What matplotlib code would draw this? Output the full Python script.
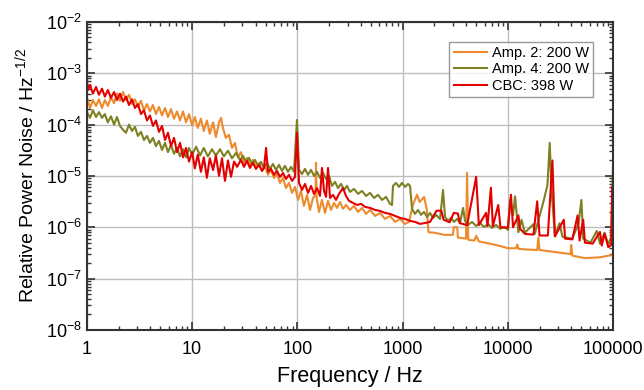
import matplotlib
matplotlib.use("Agg")
import matplotlib.pyplot as plt
from matplotlib import ticker

plt.rcParams["font.family"] = ["Liberation Sans", "DejaVu Sans"]
plt.rcParams["mathtext.default"] = "regular"

# (frequency in Hz, relative power noise in 1/sqrt(Hz))

# Amp. 2: 200 W (orange)
amp2 = [(1.0, 3.4e-4), (1.07, 2.1e-4), (1.14, 3.0e-4), (1.22, 2.3e-4), (1.30, 3.1e-4),
        (1.39, 2.1e-4), (1.48, 3.0e-4), (1.58, 2.3e-4), (1.69, 3.4e-4), (1.81, 2.6e-4),
        (1.93, 4.0e-4), (2.06, 2.9e-4), (2.20, 4.3e-4), (2.35, 3.0e-4), (2.51, 3.8e-4),
        (2.68, 2.5e-4), (2.86, 3.1e-4), (3.05, 2.2e-4), (3.26, 2.9e-4), (3.48, 1.9e-4),
        (3.72, 2.5e-4), (3.97, 1.8e-4), (4.24, 2.4e-4), (4.53, 1.6e-4), (4.84, 2.2e-4),
        (5.17, 1.5e-4), (5.52, 2.1e-4), (5.89, 1.4e-4), (6.29, 2.0e-4), (6.72, 1.3e-4),
        (7.18, 1.8e-4), (7.67, 1.2e-4), (8.19, 1.8e-4), (8.74, 1.1e-4), (9.33, 1.6e-4),
        (10.0, 9.5e-5), (10.6, 1.4e-4), (11.3, 8.6e-5), (12.1, 1.3e-4), (12.9, 7.5e-5),
        (13.8, 1.2e-4), (14.7, 6.6e-5), (15.8, 1.1e-4), (16.8, 5.7e-5), (18.0, 1.1e-4),
        (18.8, 1.35e-4), (19.6, 8.6e-5), (20.9, 5.5e-5), (22.4, 6.3e-5), (23.9, 3.5e-5),
        (25.5, 4.4e-5), (27.2, 2.3e-5), (29.1, 2.9e-5), (31.1, 1.79e-5), (33.2, 2.24e-5),
        (35.4, 1.57e-5), (37.8, 2.05e-5), (40.4, 1.43e-5), (43.2, 1.79e-5), (46.1, 1.25e-5),
        (49.2, 1.57e-5), (52.5, 1.05e-5), (56.1, 1.31e-5), (59.9, 9.1e-6), (64.0, 1.09e-5),
        (68.3, 7.3e-6), (73.0, 9.1e-6), (77.9, 5.8e-6), (83.2, 7.3e-6), (88.9, 4.67e-6),
        (94.9, 6.1e-6), (101.3, 3.4e-6), (108.2, 5.1e-6), (115.5, 2.6e-6), (123.4, 4.27e-6),
        (131.8, 2.17e-6), (140.7, 3.72e-6), (148.6, 4.27e-6), (150.2, 1.8e-5), (151.9, 3.9e-6),
        (160.5, 1.99e-6), (171.3, 3.4e-6), (183.0, 1.9e-6), (195.4, 3.26e-6), (208.7, 2.17e-6),
        (222.8, 2.98e-6), (237.9, 2.38e-6), (254.1, 3.11e-6), (271.4, 2.28e-6), (289.7, 2.72e-6),
        (316, 2.17e-6), (345, 2.6e-6), (377, 1.99e-6), (411, 2.38e-6), (449, 1.82e-6),
        (490, 2.17e-6), (547, 1.66e-6), (610, 1.9e-6), (681, 1.45e-6), (759, 1.66e-6),
        (847, 1.27e-6), (945, 1.45e-6), (1054, 1.16e-6), (1151, 1.27e-6), (1250, 2.7e-6),
        (1370, 4.3e-6), (1450, 3.1e-6), (1600, 3.9e-6), (1700, 2.2e-6), (1760, 8.0e-7),
        (2020, 7.8e-7), (2500, 7.1e-7), (3000, 7.1e-7), (3060, 1.0e-6), (3300, 1.0e-6),
        (3350, 6.3e-7), (4000, 6.0e-7), (4100, 1.15e-5), (4200, 5.7e-7), (4800, 5.5e-7),
        (5000, 6.8e-7), (5300, 5.3e-7), (6700, 4.8e-7), (8500, 4.3e-7), (10000, 3.9e-7),
        (12000, 3.9e-7), (12300, 4.6e-7), (12600, 3.8e-7), (14500, 3.7e-7), (19000, 3.6e-7),
        (19500, 6.3e-7), (20000, 3.6e-7), (31000, 3.2e-7), (39500, 3.0e-7), (40000, 4.5e-7),
        (41000, 2.8e-7), (54000, 2.5e-7), (75000, 2.6e-7), (100000, 2.9e-7)]

# Amp. 4: 200 W (olive)
amp4 = [(1.0, 1.75e-4), (1.07, 1.35e-4), (1.14, 1.9e-4), (1.22, 1.4e-4), (1.30, 1.75e-4),
        (1.39, 1.35e-4), (1.48, 1.6e-4), (1.58, 1.1e-4), (1.69, 1.45e-4), (1.81, 1.0e-4),
        (1.93, 1.4e-4), (2.06, 9.4e-5), (2.20, 7.9e-5), (2.35, 6.9e-5), (2.51, 1.0e-4),
        (2.68, 7.5e-5), (2.86, 9.0e-5), (3.05, 6.0e-5), (3.26, 7.2e-5), (3.48, 5.0e-5),
        (3.72, 6.0e-5), (3.97, 4.4e-5), (4.24, 5.5e-5), (4.53, 3.8e-5), (4.84, 4.8e-5),
        (5.17, 3.2e-5), (5.52, 4.4e-5), (5.89, 2.9e-5), (6.29, 4.0e-5), (6.72, 2.7e-5),
        (7.18, 3.5e-5), (7.67, 2.4e-5), (8.19, 3.3e-5), (8.74, 2.3e-5), (9.33, 3.5e-5),
        (10.0, 2.6e-5), (10.9, 3.7e-5), (11.9, 2.5e-5), (12.9, 3.5e-5), (14.1, 2.4e-5),
        (15.4, 3.3e-5), (16.8, 2.5e-5), (18.4, 3.3e-5), (20.0, 2.4e-5), (21.9, 3.1e-5),
        (23.9, 2.2e-5), (26.1, 2.8e-5), (28.5, 2.05e-5), (30.4, 2.45e-5), (32.5, 1.87e-5),
        (34.7, 2.24e-5), (37.0, 1.71e-5), (39.5, 2.05e-5), (42.2, 1.57e-5), (45.1, 1.87e-5),
        (48.1, 1.43e-5), (51.4, 1.79e-5), (54.9, 1.37e-5), (58.6, 1.71e-5), (62.6, 1.31e-5),
        (66.9, 1.64e-5), (71.4, 1.25e-5), (76.2, 1.57e-5), (81.4, 1.2e-5), (86.9, 1.5e-5),
        (92.8, 1.2e-5), (99.1, 1.23e-4), (103.6, 1.31e-5), (110.6, 1.09e-5), (118.1, 1.37e-5),
        (126.2, 1.05e-5), (134.7, 1.31e-5), (143.8, 1.0e-5), (153.6, 1.2e-5), (164.0, 9.1e-6),
        (175.1, 1.14e-5), (187.1, 8.7e-6), (199.7, 1.0e-5), (213.3, 6.38e-6), (227.8, 7.64e-6),
        (243.2, 5.8e-6), (259.7, 6.98e-6), (277.3, 5.33e-6), (296.1, 6.38e-6), (316, 4.88e-6),
        (345, 5.58e-6), (377, 4.46e-6), (411, 5.1e-6), (449, 4.07e-6), (490, 4.67e-6),
        (535, 3.72e-6), (584, 4.27e-6), (637, 3.4e-6), (696, 3.9e-6), (759, 2.85e-6),
        (793, 2.72e-6), (810, 6.38e-6), (865, 7.3e-6), (924, 6.1e-6), (987, 7.3e-6),
        (1054, 6.1e-6), (1125, 6.98e-6), (1176, 6.38e-6), (1229, 2.28e-6), (1312, 1.82e-6),
        (1401, 2.17e-6), (1496, 1.74e-6), (1597, 1.99e-6), (1706, 1.59e-6), (1822, 1.9e-6),
        (1945, 1.52e-6), (2078, 1.74e-6), (2268, 1.45e-6), (2421, 5.33e-6), (2529, 1.59e-6),
        (2702, 1.33e-6), (2885, 1.52e-6), (3081, 1.27e-6), (3290, 1.45e-6), (3513, 1.21e-6),
        (3751, 2.38e-6), (3919, 1.33e-6), (4184, 1.11e-6), (4567, 1.27e-6), (4985, 1.06e-6),
        (5441, 1.21e-6), (5939, 1.01e-6), (6483, 1.16e-6), (7076, 9.7e-7), (7724, 1.11e-6),
        (8432, 9.3e-7), (9204, 1.01e-6), (10045, 8.9e-7), (10500, 3.4e-6), (11200, 1.7e-6),
        (11700, 4.0e-6), (12600, 8.0e-7), (13500, 1.4e-6), (14500, 7.8e-7), (17500, 1.15e-6),
        (18000, 7.4e-7), (22000, 3.4e-6), (23800, 6.7e-6), (25000, 4.4e-5), (26000, 5.3e-6),
        (28000, 6.8e-7), (31000, 1.2e-6), (33000, 6.5e-7), (41000, 6.0e-7), (47000, 1.2e-6),
        (50000, 3.4e-6), (52000, 6.0e-7), (61000, 5.0e-7), (70000, 8.5e-7), (75000, 4.8e-7),
        (83000, 7.8e-7), (90000, 4.6e-7), (96000, 6.5e-7), (100000, 1.8e-5)]

# CBC: 398 W (red)
cbc = [(1.0, 7.4e-4), (1.02, 4.7e-4), (1.07, 5.9e-4), (1.14, 4.0e-4), (1.22, 5.4e-4),
       (1.30, 3.8e-4), (1.39, 5.0e-4), (1.48, 3.5e-4), (1.58, 4.7e-4), (1.69, 3.3e-4),
       (1.81, 4.3e-4), (1.93, 3.0e-4), (2.06, 4.0e-4), (2.20, 2.8e-4), (2.35, 3.5e-4),
       (2.51, 2.4e-4), (2.68, 3.1e-4), (2.86, 2.1e-4), (3.05, 2.5e-4), (3.26, 1.6e-4),
       (3.48, 1.9e-4), (3.72, 1.2e-4), (3.97, 1.5e-4), (4.24, 9.4e-5), (4.53, 1.2e-4),
       (4.84, 7.2e-5), (5.17, 9.4e-5), (5.52, 5.0e-5), (5.89, 6.9e-5), (6.29, 3.8e-5),
       (6.72, 5.5e-5), (7.18, 2.9e-5), (7.67, 4.4e-5), (8.19, 2.3e-5), (8.74, 3.5e-5),
       (9.33, 1.9e-5), (10.0, 2.9e-5), (10.6, 1.4e-5), (11.3, 2.6e-5), (12.1, 1.2e-5),
       (12.9, 2.3e-5), (13.8, 9.2e-6), (14.7, 2.2e-5), (15.8, 1.3e-5), (16.8, 2.5e-5),
       (18.0, 1.0e-5), (19.2, 2.2e-5), (20.5, 8.0e-6), (21.9, 2.0e-5), (23.4, 9.6e-6),
       (25.0, 1.9e-5), (26.7, 1.5e-5), (29.1, 2.05e-5), (31.1, 1.5e-5), (33.2, 1.96e-5),
       (35.4, 1.43e-5), (37.8, 1.79e-5), (40.4, 1.37e-5), (43.2, 1.64e-5), (46.1, 1.25e-5),
       (48.1, 1.43e-5), (50.4, 3.51e-5), (52.5, 1.2e-5), (56.1, 1.37e-5), (59.9, 1.05e-5),
       (64.0, 1.25e-5), (68.3, 9.55e-6), (73.0, 1.14e-5), (77.9, 8.7e-6), (83.2, 1.05e-5),
       (88.9, 8.0e-6), (94.9, 9.55e-6), (99.1, 6.88e-5), (103.6, 7.3e-6), (110.6, 5.33e-6),
       (118.1, 6.98e-6), (126.2, 4.67e-6), (134.7, 6.38e-6), (143.8, 4.46e-6), (153.6, 5.8e-6),
       (164.0, 4.07e-6), (171.3, 1.43e-5), (179.0, 5.1e-6), (187.1, 3.9e-6), (195.4, 1.43e-5),
       (204.1, 3.72e-6), (218, 4.27e-6), (232.8, 3.4e-6), (248.5, 4.46e-6), (271.4, 5.8e-6),
       (289.7, 4.07e-6), (309.4, 3.26e-6), (337.8, 2.98e-6), (368.6, 2.72e-6), (402.4, 2.85e-6),
       (439.2, 2.49e-6), (490, 2.38e-6), (547, 2.17e-6), (610, 2.08e-6), (681, 1.9e-6),
       (759, 1.82e-6), (847, 1.66e-6), (945, 1.52e-6), (1054, 1.45e-6), (1176, 1.33e-6),
       (1312, 1.27e-6), (1464, 1.16e-6), (1633, 1.21e-6), (1822, 1.27e-6), (2100, 2.1e-6),
       (2330, 2.1e-6), (2450, 1.4e-6), (2800, 1.25e-6), (3060, 1.9e-6), (3350, 1.85e-6),
       (3500, 1.2e-6), (4100, 1.1e-6), (5000, 9.6e-6), (5300, 1.1e-6), (6200, 1.9e-6),
       (6400, 1.05e-6), (6900, 5.9e-6), (7200, 1.05e-6), (8100, 2.7e-6), (8500, 1.0e-6),
       (10000, 9.8e-7), (10700, 4.3e-6), (11200, 1.0e-6), (12600, 1.7e-6), (13000, 9.4e-7),
       (14600, 7.4e-7), (17500, 7.2e-7), (19000, 3.2e-6), (20000, 6.9e-7), (24000, 6.9e-7),
       (26500, 2.0e-5), (28000, 6.6e-7), (34000, 1.4e-6), (35000, 6.0e-7), (41000, 5.8e-7),
       (46000, 1.7e-6), (48000, 5.5e-7), (52000, 1.4e-6), (54000, 5.0e-7), (64000, 4.8e-7),
       (75000, 8.1e-7), (78000, 4.4e-7), (83000, 7.5e-7), (90000, 4.1e-7), (96000, 4.5e-7),
       (98000, 6.1e-6), (100000, 5.7e-7)]

labels = ["Amp. 2: 200 W", "Amp. 4: 200 W", "CBC: 398 W"]
colors = ["#EE8A2C", "#7E8024", "#E40000"]

fig = plt.figure(figsize=(6.44, 3.9), dpi=100)
ax = fig.add_axes([0.135, 0.154, 0.817, 0.79])

for data, lab, c in zip([amp2, amp4, cbc], labels, colors):
    f, v = zip(*data)
    ax.plot(f, v, color=c, lw=1.5, label=lab)

ax.set_xscale("log")
ax.set_yscale("log")
ax.set_xlim(1, 1e5)
ax.set_ylim(1e-8, 1e-2)

ax.xaxis.set_major_locator(ticker.LogLocator(base=10, numticks=10))
ax.xaxis.set_major_formatter(ticker.FuncFormatter(lambda x, p: "%d" % round(x)))
ax.xaxis.set_minor_locator(ticker.LogLocator(base=10, subs=range(2, 10), numticks=20))
ax.xaxis.set_minor_formatter(ticker.NullFormatter())
ax.yaxis.set_major_locator(ticker.LogLocator(base=10, numticks=10))
ax.yaxis.set_minor_locator(ticker.LogLocator(base=10, subs=range(2, 10), numticks=20))
ax.yaxis.set_minor_formatter(ticker.NullFormatter())

ax.grid(True, which="major", color="#BDBDBD", lw=1.0)
ax.tick_params(which="both", direction="in", top=True, right=True, labelsize=13,
               color="#333333")
ax.tick_params(which="major", length=6, width=1.2)
ax.tick_params(which="minor", length=3, width=1.0)
ax.tick_params(axis="x", pad=8)
for s in ax.spines.values():
    s.set_color("#333333")
    s.set_linewidth(1.5)

ax.set_xlabel("Frequency / Hz", fontsize=15.5, labelpad=6)
ax.set_ylabel("Relative Power Noise / Hz$^{-1/2}$", fontsize=14, labelpad=6)

leg = ax.legend(loc="upper right", bbox_to_anchor=(0.962, 0.935), fontsize=10.5,
                frameon=True, fancybox=False, handlelength=2.3, handletextpad=0.3,
                borderpad=0.3, labelspacing=0.15, borderaxespad=0)
leg.get_frame().set_edgecolor("#808080")
leg.get_frame().set_linewidth(1.0)

fig.savefig("out.png", dpi=100)
